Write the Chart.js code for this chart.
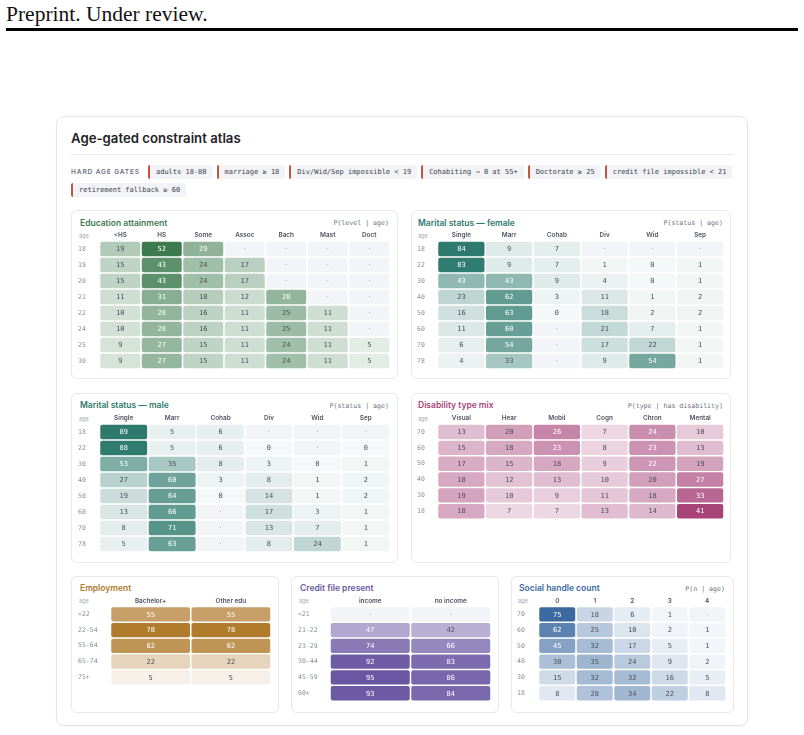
<!DOCTYPE html>
<html><head><meta charset="utf-8">
<script src="https://cdn.jsdelivr.net/npm/chart.js@4.4.1/dist/chart.umd.min.js"></script>
<style>
body{margin:0;width:804px;height:735px;background:#fff;position:relative;overflow:hidden;font-family:Inter,"Noto Sans",sans-serif;}
#hdr{position:absolute;left:6px;top:2px;font-family:"Liberation Serif","DejaVu Serif",serif;font-size:21.5px;color:#111;line-height:24px;white-space:nowrap;}
#rule{position:absolute;left:6px;top:28px;width:792px;height:3px;background:#000;}
#card{position:absolute;left:56px;top:116px;width:692px;height:610px;border:1px solid #e3e5ea;border-radius:8px;box-sizing:border-box;box-shadow:0 1px 2px rgba(0,0,0,0.04);}
#title{position:absolute;left:71px;top:130px;font-size:13.2px;font-weight:600;color:#1f2328;line-height:16px;white-space:nowrap;}
#divider{position:absolute;left:71px;top:154px;width:662px;height:1px;background:#e8e9ee;}
#chips{position:absolute;left:71px;top:165px;width:664px;display:flex;flex-wrap:wrap;gap:4px 4px;align-items:center;}
.lab{font-size:6.5px;font-weight:600;letter-spacing:0.9px;color:#6b7280;margin-right:4px;height:14px;line-height:14px;white-space:nowrap;}
.chip{font-family:"DejaVu Sans Mono",monospace;font-size:7px;color:#3b404b;background:#f2f3f7;border-left:2px solid #c4553f;padding:0 6px;height:14px;line-height:14px;border-radius:2px;white-space:nowrap;}
.panel{position:absolute;border:1px solid #e6e8ec;border-radius:6px;box-sizing:border-box;}
.ptitle{position:absolute;font-size:8.5px;font-weight:600;white-space:nowrap;line-height:10px;}
.pnote{position:absolute;font-family:"DejaVu Sans Mono",monospace;font-size:6.6px;color:#6f747e;white-space:nowrap;line-height:8px;text-align:right;}
.agehd{position:absolute;font-size:5.5px;color:#a3a8b2;line-height:7px;}
canvas{position:absolute;}
</style></head><body>
<div id="hdr">Preprint. Under review.</div>
<div id="rule"></div>
<div id="card"></div>
<div id="title">Age-gated constraint atlas</div>
<div id="divider"></div>
<div id="chips"></div>
<script>
// ---------- DATA ----------
const gateLabel = 'HARD AGE GATES';
const gates = ['adults 18-80','marriage ≥ 18','Div/Wid/Sep impossible < 19','Cohabiting → 0 at 55+','Doctorate ≥ 25','credit file impossible < 21','retirement fallback ≥ 60'];

const eduAges = ['18','19','20','21','22','24','25','30'];
const eduCols = ['<HS','HS','Some','Assoc','Bach','Mast','Doct'];
const eduVals = [
  [19,52,29,null,null,null,null],
  [15,43,24,17,null,null,null],
  [15,43,24,17,null,null,null],
  [11,31,18,12,28,null,null],
  [10,28,16,11,25,11,null],
  [10,28,16,11,25,11,null],
  [9,27,15,11,24,11,5],
  [9,27,15,11,24,11,5]
];

const maritalCols = ['Single','Marr','Cohab','Div','Wid','Sep'];
const femAges = ['18','22','30','40','50','60','70','78'];
const femVals = [
  [84,9,7,null,null,null],
  [83,9,7,1,0,1],
  [43,43,9,4,0,1],
  [23,62,3,11,1,2],
  [16,63,0,18,2,2],
  [11,60,null,21,7,1],
  [6,54,null,17,22,1],
  [4,33,null,9,54,1]
];
const maleAges = ['18','22','30','40','50','60','70','78'];
const maleVals = [
  [89,5,6,null,null,null],
  [88,5,6,0,null,0],
  [53,35,8,3,0,1],
  [27,60,3,8,1,2],
  [19,64,0,14,1,2],
  [13,66,null,17,3,1],
  [8,71,null,13,7,1],
  [5,63,null,8,24,1]
];

const disAges = ['70','60','50','40','30','18'];
const disCols = ['Visual','Hear','Mobil','Cogn','Chron','Mental'];
const disVals = [
  [13,20,26,7,24,10],
  [15,18,23,8,23,13],
  [17,15,18,9,22,19],
  [18,12,13,10,20,27],
  [19,10,9,11,18,33],
  [18,7,7,13,14,41]
];

const empAges = ['<22','22-54','55-64','65-74','75+'];
const empCols = ['Bachelor+','Other edu'];
const empVals = [[55,55],[78,78],[62,62],[22,22],[5,5]];

const creditAges = ['<21','21-22','23-29','30-44','45-59','60+'];
const creditCols = ['income','no income'];
const creditVals = [[null,null],[47,42],[74,66],[92,83],[95,86],[93,84]];

const socialAges = ['70','60','50','40','30','18'];
const socialCols = ['0','1','2','3','4'];
const socialVals = [
  [75,18,6,1,null],
  [62,25,10,2,1],
  [45,32,17,5,1],
  [30,35,24,9,2],
  [15,32,32,16,5],
  [8,28,34,22,8]
];

// ---------- CHIPS ----------
const chips = document.getElementById('chips');
const lab = document.createElement('div'); lab.className='lab'; lab.textContent=gateLabel; chips.appendChild(lab);
gates.forEach(g=>{const d=document.createElement('div');d.className='chip';d.textContent=g;chips.appendChild(d);});

// ---------- PANELS (layout) ----------
const panels = [
  {title:'Education attainment', note:'P(level | age)', rgb:[61,123,79], ages:eduAges, cols:eduCols, vals:eduVals,
   box:[71,210,327,169], tx:80, ty:223.3, nr:389, ax:79, hy:236, cl:99.5, cr:389.5, rt:241.1, rh:16.43},
  {title:'Marital status — female', note:'P(status | age)', rgb:[46,122,110], ages:femAges, cols:maritalCols, vals:femVals,
   box:[411,210,320,169], tx:418, ty:223.3, nr:723, ax:418, hy:236, cl:437.5, cr:723.5, rt:241.1, rh:16.43},
  {title:'Marital status — male', note:'P(status | age)', rgb:[46,122,110], ages:maleAges, cols:maritalCols, vals:maleVals,
   box:[71,393,327,170], tx:80, ty:405.7, nr:389, ax:79, hy:419, cl:99.5, cr:389.5, rt:424.1, rh:16.43},
  {title:'Disability type mix', note:'P(type | has disability)', rgb:[168,68,122], ages:disAges, cols:disCols, vals:disVals,
   box:[411,393,320,170], tx:418, ty:405.7, nr:723, ax:418, hy:419, cl:437.5, cr:723.5, rt:424.1, rh:16.43},
  {title:'Employment', note:'', rgb:[176,123,45], ages:empAges, cols:empCols, vals:empVals,
   box:[71,576,208,137], tx:80, ty:588.7, nr:271, ax:79, hy:601.7, cl:110.5, cr:271, rt:606.45, rh:16.5},
  {title:'Credit file present', note:'', rgb:[106,87,163], ages:creditAges, cols:creditCols, vals:creditVals,
   box:[291,576,208,137], tx:300, ty:588.7, nr:490, ax:299, hy:601.7, cl:330, cr:490.5, rt:606.45, rh:16.47},
  {title:'Social handle count', note:'P(n | age)', rgb:[59,105,160], ages:socialAges, cols:socialCols, vals:socialVals,
   box:[511,576,223,137], tx:519, ty:588.7, nr:725, ax:518, hy:601.7, cl:538.5, cr:725.5, rt:606.45, rh:16.47}
];

function cellColor(rgb, v, max){
  if(v==null) return '#f3f4f8';
  const a = 0.05 + 0.95*(v/max);
  const c = rgb.map(x=>Math.round(255-(255-x)*a));
  return `rgb(${c[0]},${c[1]},${c[2]})`;
}

const cellText = {
  id:'cellText',
  afterDatasetsDraw(chart){
    const o = chart.options.plugins.cellText;
    const ctx = chart.ctx;
    ctx.save();
    ctx.textAlign='center'; ctx.textBaseline='middle';
    chart.data.datasets.forEach((ds,di)=>{
      const meta = chart.getDatasetMeta(di);
      meta.data.forEach((bar,ci)=>{
        const v = ds.values[ci];
        const t = v==null?0:v/o.max;
        ctx.font = '7px "DejaVu Sans Mono", monospace';
        ctx.fillStyle = v==null ? '#9ba1ac' : (t>=0.49 ? '#ffffff' : '#4b505b');
        ctx.fillText(v==null?'·':String(v), bar.x, (bar.y+bar.base)/2+0.5);
      });
    });
    ctx.restore();
  }
};

function add(cls, txt, css){
  const d=document.createElement('div'); d.className=cls; d.textContent=txt;
  Object.assign(d.style, css); document.body.appendChild(d); return d;
}

panels.forEach(p=>{
  add('panel','',{left:p.box[0]+'px',top:p.box[1]+'px',width:p.box[2]+'px',height:p.box[3]+'px'});
  add('ptitle',p.title,{left:p.tx+'px',top:(p.ty-5.5)+'px',color:`rgb(${p.rgb.join(',')})`});
  if(p.note) add('pnote',p.note,{right:(804-p.nr)+'px',top:(p.ty-4)+'px'});
  add('agehd','age',{left:p.ax+'px',top:(p.hy-3.5)+'px'});

  const n = p.ages.length, m = p.cols.length;
  const left = Math.floor(p.ax)-1, top = Math.round(p.hy-7);
  const width = Math.round(p.cr - left);
  const height = Math.round(p.rt + n*p.rh - top);
  const yW = p.cl - left, xH = p.rt - top;
  const cv = document.createElement('canvas');
  cv.width=width; cv.height=height;
  cv.style.left=left+'px'; cv.style.top=top+'px';
  cv.style.width=width+'px'; cv.style.height=height+'px';
  document.body.appendChild(cv);

  const max = Math.max(...p.vals.flat().filter(v=>v!=null));
  const colW = (p.cr-p.cl)/m;
  const hh = 0.5 - 0.75/p.rh;
  const datasets = p.vals.map((row,ri)=>({
    label:p.ages[ri],
    data: row.map(()=>[ri-hh, ri+hh]),
    values: row,
    backgroundColor: row.map(v=>cellColor(p.rgb,v,max)),
    borderWidth:0,
    borderRadius:2,
    borderSkipped:false,
    grouped:false,
    categoryPercentage:1,
    barPercentage:1-1.5/colW
  }));

  new Chart(cv,{
    type:'bar',
    data:{labels:p.cols, datasets},
    options:{
      responsive:false, animation:false, devicePixelRatio:1, events:[],
      layout:{padding:0},
      plugins:{legend:{display:false}, tooltip:{enabled:false}, cellText:{max}},
      scales:{
        x:{type:'category', position:'top', offset:true,
           grid:{display:false, drawTicks:false}, border:{display:false},
           ticks:{autoSkip:false, maxRotation:0, padding:2, color:'#4f5461',
                  font:{family:'Inter, "Noto Sans", sans-serif', size:6.4, weight:'600'}},
           afterFit(s){ s.height = xH; }},
        y:{type:'linear', reverse:true, min:-0.5, max:n-0.5,
           grid:{display:false, drawTicks:false}, border:{display:false},
           afterBuildTicks(s){ s.ticks = p.ages.map((_,i)=>({value:i})); },
           ticks:{autoSkip:false, crossAlign:'far', padding:0, color:'#8b909a',
                  font:{family:'"DejaVu Sans Mono", monospace', size:6.5},
                  callback:(v)=>p.ages[v]},
           afterFit(s){ s.width = yW; }}
      }
    },
    plugins:[cellText]
  });
});
</script>
</body></html>
